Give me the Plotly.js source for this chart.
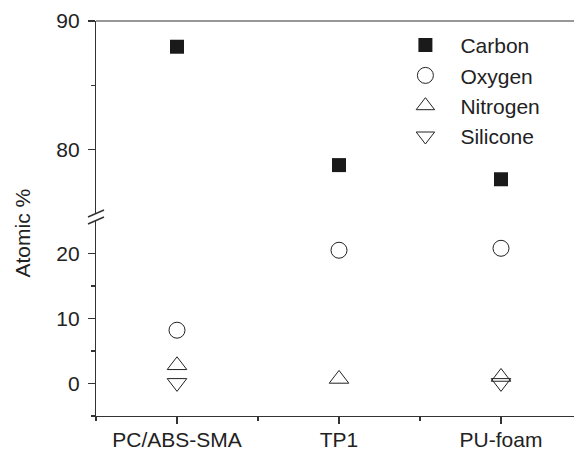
<!DOCTYPE html>
<html>
<head>
<meta charset="utf-8">
<script src="https://cdn.plot.ly/plotly-3.0.1.min.js"></script>
<style>html,body{margin:0;padding:0;background:#fff;}#chart{width:574px;height:450px;}</style>
</head>
<body>
<div id="chart"></div>
<script>
var categories = ["PC/ABS-SMA", "TP1", "PU-foam"];
var catPos = [0, 1, 2];
var carbon = [88.0, 78.8, 77.7];
var oxygen = [8.2, 20.5, 20.8];
var nitrogen = [2.8, 0.7, 1.0];
var silicone = [0.1, null, 0.1];
var lowerTicks = [0, 10, 20];
var upperTicks = [80, 90];

var ink = "#222222";
var font = {family: "Liberation Sans, Arial, sans-serif", size: 21, color: ink};

var traces = [
  {name: "Carbon", x: catPos, y: carbon, xaxis: "x", yaxis: "y2", type: "scatter", mode: "markers",
   marker: {symbol: "square", size: 14, color: "#1a1a1a", line: {width: 0}}},
  {name: "Oxygen", x: catPos, y: oxygen, xaxis: "x", yaxis: "y", type: "scatter", mode: "markers",
   marker: {symbol: "circle-open", size: 16, color: ink, line: {width: 1, color: ink}}},
  {name: "Nitrogen", x: catPos, y: nitrogen, xaxis: "x", yaxis: "y", type: "scatter", mode: "markers",
   marker: {symbol: "triangle-up-open", size: 17, color: ink, line: {width: 1, color: ink}}},
  {name: "Silicone", x: catPos, y: silicone, xaxis: "x", yaxis: "y", type: "scatter", mode: "markers",
   marker: {symbol: "triangle-down-open", size: 17, color: ink, line: {width: 1, color: ink}}}
];

var axisCommon = {
  showline: true, linecolor: "#333", linewidth: 1.2, showgrid: false, zeroline: false,
  ticks: "outside", ticklen: 7, tickwidth: 1.2, tickcolor: "#333", tickfont: font
};

var layout = {
  width: 574, height: 450,
  margin: {l: 96, r: 0, t: 21, b: 34},
  paper_bgcolor: "#fff", plot_bgcolor: "#fff",
  font: font,
  showlegend: true,
  legend: {x: 0.6159, y: 0.99, xanchor: "left", yanchor: "top", bgcolor: "rgba(0,0,0,0)",
           font: font, itemwidth: 60, tracegroupgap: 0},
  xaxis: Object.assign({}, axisCommon, {
    range: [-0.5, 2.4506], tickmode: "array", tickvals: catPos, ticktext: categories,
    anchor: "y", ticklabelstandoff: -2,
    minor: {tickvals: [-0.5, 0.5, 1.5, 2.5], ticks: "outside", ticklen: 4, tickwidth: 1.2, tickcolor: "#333"}
  }),
  yaxis: Object.assign({}, axisCommon, {
    domain: [0, 0.4937], range: [-5, 25], tickmode: "array", tickvals: lowerTicks,
    anchor: "x", ticklabelstandoff: 4,
    minor: {tickvals: [-5, 5, 15], ticks: "outside", ticklen: 4, tickwidth: 1.2, tickcolor: "#333"}
  }),
  yaxis2: Object.assign({}, axisCommon, {
    domain: [0.5114, 1], range: [75, 90], tickmode: "array", tickvals: upperTicks,
    anchor: "x", ticklabelstandoff: 4,
    minor: {tickvals: [85], ticks: "outside", ticklen: 4, tickwidth: 1.2, tickcolor: "#333"}
  }),
  shapes: [
    {type: "line", xref: "paper", yref: "paper", x0: 0, x1: 1, y0: 1, y1: 1,
     line: {color: "#333", width: 1.2}},
    {type: "line", xref: "paper", yref: "paper", xsizemode: "pixel", ysizemode: "pixel",
     xanchor: 0, yanchor: 0.4937, x0: -8, x1: 8, y0: -3, y1: 4, line: {color: "#333", width: 1.5}},
    {type: "line", xref: "paper", yref: "paper", xsizemode: "pixel", ysizemode: "pixel",
     xanchor: 0, yanchor: 0.5114, x0: -8, x1: 8, y0: -3, y1: 4, line: {color: "#333", width: 1.5}}
  ],
  annotations: [
    {text: "Atomic %", xref: "paper", yref: "paper", x: -0.1527, y: 0.462, showarrow: false,
     textangle: -90, font: font, xanchor: "center", yanchor: "middle"}
  ]
};

Plotly.newPlot("chart", traces, layout, {staticPlot: true, displayModeBar: false});
</script>
</body>
</html>
